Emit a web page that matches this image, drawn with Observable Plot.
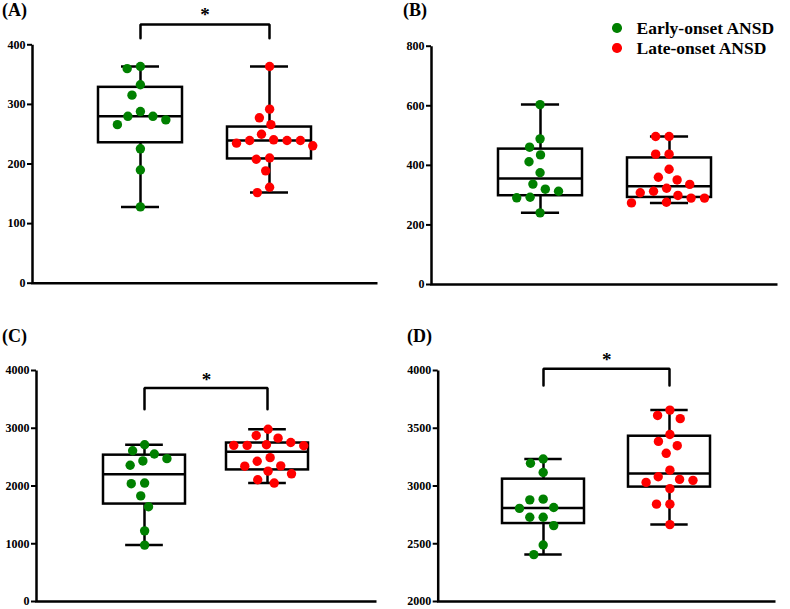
<!DOCTYPE html>
<html>
<head>
<meta charset="utf-8">
<script src="https://cdn.jsdelivr.net/npm/d3@7"></script>
<script src="https://cdn.jsdelivr.net/npm/@observablehq/plot@0.6"></script>
<style>
  body { margin: 0; background: #fff; }
  #fig { position: relative; width: 790px; height: 609px; font-family: "Liberation Serif", "Times New Roman", serif; font-weight: bold; color: #000; }
  #fig svg text { font-family: "Liberation Serif", "Times New Roman", serif !important; font-weight: bold !important; }
  .panel { position: absolute; }
  .lab { position: absolute; font-size: 18px; line-height: 20px; font-weight: bold; }
  .legend { position: absolute; left: 612px; top: 18px; font-size: 17.5px; line-height: 20px; }
  .legend div { display: flex; align-items: center; white-space: nowrap; }
  .legend .sw { display: inline-block; width: 9.5px; height: 9.5px; border-radius: 50%; margin-right: 15px; }
</style>
</head>
<body>
<div id="fig"></div>
<script>
// ---------- data ----------
const groups = ["Early-onset ANSD", "Late-onset ANSD"];
const groupColors = ["#008000", "#ff0000"];

// Panel A
const aEarly = [363.6, 360, 333, 315.5, 288, 280, 280, 274, 266, 225.5, 190, 128];
const aLate  = [363.6, 292, 277.5, 266, 250, 240.6, 239.4, 239.4, 239.4, 235, 230.5, 210, 208, 188.5, 161, 152];
const aTicks = [0, 100, 200, 300, 400];
const aDomain = [0, 400];
const aBracket = [411, 434];   // [arm end, bar] in data units
const aStar = 450;

// Panel B
const bEarly = [604, 489, 461, 435, 412, 375, 337, 320, 313, 293, 291, 240.5];
const bLate  = [497, 497, 437.5, 437.5, 387, 360, 351, 336, 323, 313, 308, 299, 290, 290, 276, 274];
const bTicks = [0, 200, 400, 600, 800];
const bDomain = [0, 800];

// Panel C
const cEarly = [2714, 2611, 2554, 2474, 2434, 2360, 2051, 2040, 1829, 1640, 1223, 977];
const cLate  = [2983, 2874, 2829, 2754, 2714, 2703, 2703, 2697, 2491, 2429, 2349, 2343, 2257, 2211, 2109, 2051];
const cTicks = [0, 1000, 2000, 3000, 4000];
const cDomain = [0, 4000];
const cBracket = [3331, 3697];
const cStar = 3835;

// Panel D
const dEarly = [3234, 3197, 3117, 2886, 2880, 2814, 2806, 2729, 2729, 2657, 2489, 2406];
const dLate  = [3657, 3611, 3583, 3446, 3386, 3349, 3283, 3137, 3080, 3057, 3049, 3031, 2977, 2843, 2843, 2666];
const dTicks = [2000, 2500, 3000, 3500, 4000];
const dDomain = [2000, 4000];
const dBracket = [3871, 4015];
const dStar = 4090;

// ---------- layout ----------
const panels = [
  {label: "(A)", early: aEarly, late: aLate, ticks: aTicks, domain: aDomain, bracket: aBracket, star: aStar,
   left: 0, top: 0, width: 395, height: 300, mL: 32, mR: 18, mT: 44.3, mB: 17.3, pI: 0.35, pO: 0.51, labX: 2, labY: 0},
  {label: "(B)", early: bEarly, late: bLate, ticks: bTicks, domain: bDomain, bracket: null, star: null,
   left: 395, top: 0, width: 395, height: 300, mL: 36, mR: 13, mT: 45.7, mB: 16, pI: 0.35, pO: 0.516, labX: 403, labY: 0},
  {label: "(C)", early: cEarly, late: cLate, ticks: cTicks, domain: cDomain, bracket: cBracket, star: cStar,
   left: 0, top: 300, width: 395, height: 309, mL: 36, mR: 19, mT: 70, mB: 8, pI: 0.333, pO: 0.544, labX: 2, labY: 326},
  {label: "(D)", early: dEarly, late: dLate, ticks: dTicks, domain: dDomain, bracket: dBracket, star: dStar,
   left: 395, top: 300, width: 395, height: 309, mL: 42.7, mR: 15, mT: 70, mB: 8, pI: 0.348, pO: 0.505, labX: 407, labY: 326}
];

// GraphPad-style quartiles (type 6)
function q6(sorted, p) {
  const n = sorted.length, pos = p * (n + 1);
  if (pos <= 1) return sorted[0];
  if (pos >= n) return sorted[n - 1];
  const lo = Math.floor(pos), frac = pos - lo;
  return sorted[lo - 1] + frac * (sorted[lo] - sorted[lo - 1]);
}
function boxStats(values, g) {
  const s = values.slice().sort((a, b) => a - b);
  return {g, min: s[0], q1: q6(s, 0.25), med: q6(s, 0.5), q3: q6(s, 0.75), max: s[s.length - 1]};
}

const fig = document.getElementById("fig");
const SW = 2.5;

for (const p of panels) {
  const W = p.width - p.mL - p.mR, H = p.height - p.mT - p.mB;
  const step = W / (2 - p.pI + 2 * p.pO);
  const bw = step * (1 - p.pI);
  const capInset = (bw - 38) / 2;
  const boxes = [boxStats(p.early, groups[0]), boxStats(p.late, groups[1])];
  const marks = [
    Plot.axisY({ticks: p.ticks, tickSize: 5, tickPadding: 2, strokeWidth: 2, label: null, tickFormat: d => String(d),
                fontSize: 12, fontWeight: "bold"}),
    Plot.frame({stroke: "black", strokeWidth: SW, strokeDasharray: `0 ${W + H} ${W + H + 2}`}),
    Plot.ruleX(boxes, {x: "g", y1: "min", y2: "max", strokeWidth: SW, stroke: "black"}),
    Plot.barY(boxes, {x: "g", y1: "q1", y2: "q3", fill: "white", stroke: "black", strokeWidth: SW}),
    Plot.tickY(boxes, {x: "g", y: "med", strokeWidth: SW, stroke: "black"}),
    Plot.tickY(boxes, {x: "g", y: "min", strokeWidth: SW, stroke: "black", insetLeft: capInset, insetRight: capInset}),
    Plot.tickY(boxes, {x: "g", y: "max", strokeWidth: SW, stroke: "black", insetLeft: capInset, insetRight: capInset}),
    Plot.dot(p.early.slice().sort((a, b) => b - a), Plot.dodgeX({anchor: "middle", padding: 4},
      {y: d => d, r: 4.7, fill: groupColors[0], dx: -step / 2 - bw / 2})),
    Plot.dot(p.late.slice().sort((a, b) => b - a), Plot.dodgeX({anchor: "middle", padding: 4},
      {y: d => d, r: 4.7, fill: groupColors[1], dx: step / 2 - bw / 2}))
  ];
  if (p.bracket) {
    const [armEnd, bar] = p.bracket;
    const br = [{g: groups[0], y: armEnd}, {g: groups[0], y: bar}, {g: groups[1], y: bar}, {g: groups[1], y: armEnd}];
    marks.push(Plot.line(br, {x: "g", y: "y", stroke: "black", strokeWidth: SW, strokeLinejoin: "miter"}));
    marks.push(Plot.text(["*"], {y: () => p.star, text: d => d, fontSize: 19, fontWeight: "bold"}));
  }
  const svg = Plot.plot({
    width: p.width, height: p.height,
    marginLeft: p.mL, marginRight: p.mR, marginTop: p.mT, marginBottom: p.mB,
    x: {type: "band", domain: groups, paddingInner: p.pI, paddingOuter: p.pO, axis: null},
    y: {domain: p.domain, axis: null},
    style: {fontSize: "12px", color: "black", background: "transparent", overflow: "visible"},
    marks
  });
  svg.classList.add("panel");
  svg.style.left = p.left + "px";
  svg.style.top = p.top + "px";
  fig.appendChild(svg);

  const lab = document.createElement("div");
  lab.className = "lab";
  lab.style.left = p.labX + "px";
  lab.style.top = p.labY + "px";
  lab.textContent = p.label;
  fig.appendChild(lab);
}

// legend
const legend = document.createElement("div");
legend.className = "legend";
groups.forEach((g, i) => {
  const row = document.createElement("div");
  const sw = document.createElement("span");
  sw.className = "sw";
  sw.style.background = groupColors[i];
  row.appendChild(sw);
  row.appendChild(document.createTextNode(g));
  legend.appendChild(row);
});
fig.appendChild(legend);
</script>
</body>
</html>
